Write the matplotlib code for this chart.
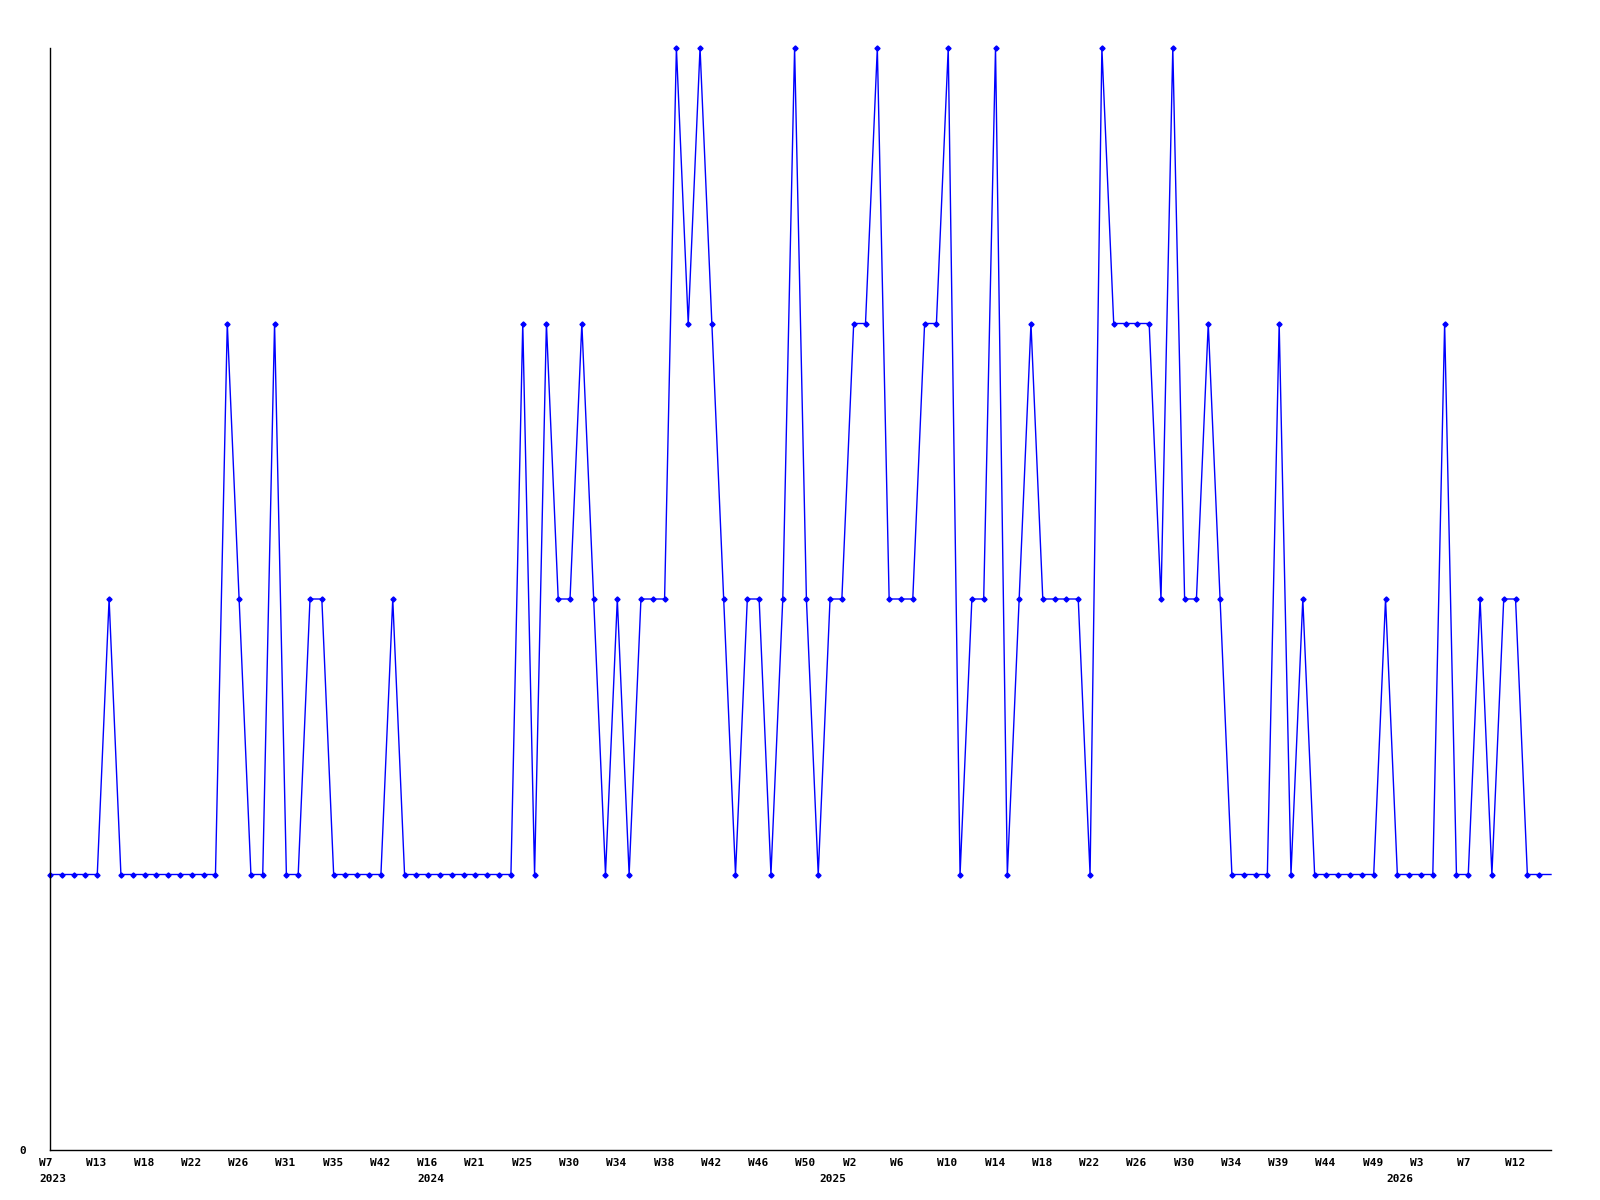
import matplotlib
matplotlib.use("Agg")
import matplotlib.pyplot as plt
import matplotlib.transforms as mtransforms
import numpy as np

# weekly values, one point per week (categorical axis, weeks with no data skipped)
values = [
    1, 1, 1, 1, 1, 2, 1, 1, 1, 1, 1, 1, 1, 1, 1, 3, 2, 1, 1, 3,
    1, 1, 2, 2, 1, 1, 1, 1, 1, 2, 1, 1, 1, 1, 1, 1, 1, 1, 1, 1,
    3, 1, 3, 2, 2, 3, 2, 1, 2, 1, 2, 2, 2, 4, 3, 4, 3, 2, 1, 2,
    2, 1, 2, 4, 2, 1, 2, 2, 3, 3, 4, 2, 2, 2, 3, 3, 4, 1, 2, 2,
    4, 1, 2, 3, 2, 2, 2, 2, 1, 4, 3, 3, 3, 3, 2, 4, 2, 2, 3, 2,
    1, 1, 1, 1, 3, 1, 2, 1, 1, 1, 1, 1, 1, 2, 1, 1, 1, 1, 3, 1,
    1, 2, 1, 2, 2, 1, 1, 1,
]
week_labels = ["W7", "W13", "W18", "W22", "W26", "W31", "W35", "W42",
               "W16", "W21", "W25", "W30", "W34", "W38", "W42", "W46",
               "W50", "W2", "W6", "W10", "W14", "W18", "W22", "W26",
               "W30", "W34", "W39", "W44", "W49", "W3", "W7", "W12"]
label_every = 4
years = ["2023", "2024", "2025", "2026"]
year_idx = [0, 32, 66, 114]

x = np.arange(len(values))
font = dict(family="DejaVu Sans Mono", weight="bold", size=8)

fig = plt.figure(figsize=(16, 12), dpi=100)
ax = fig.add_axes([50 / 1600, 50 / 1200, 1501 / 1600, 1102 / 1200])
ax.plot(x, values, color="#0000ff", lw=1, marker="D", ms=2.6,
        markevery=list(range(len(values) - 1)), clip_on=False)
ax.set_xlim(0, len(values) - 1)
ax.set_ylim(0, 4)

for s in ["top", "right"]:
    ax.spines[s].set_visible(False)
for s in ["left", "bottom"]:
    ax.spines[s].set_linewidth(1)

# labels sit left-aligned, starting ~11 px left of their point
shift = mtransforms.ScaledTranslation(-11 / 100, 0, fig.dpi_scale_trans)

ticks = x[::label_every][:len(week_labels)]
ax.set_xticks(ticks, week_labels)
ax.set_yticks([0], ["0"])
ax.tick_params(axis="x", length=0, pad=6)
ax.tick_params(axis="y", length=0, pad=17)
for t in ax.get_xticklabels() + ax.get_yticklabels():
    t.set_fontfamily(font["family"])
    t.set_fontweight(font["weight"])
    t.set_fontsize(font["size"])
for t in ax.get_xticklabels():
    t.set_horizontalalignment("left")
    t.set_transform(t.get_transform() + shift)

base = ax.get_xaxis_transform()
down = mtransforms.ScaledTranslation(0, -17 / 72, fig.dpi_scale_trans)
for yr, i in zip(years, year_idx):
    ax.text(i, 0, yr, transform=base + down + shift, ha="left", va="top",
            **font)

fig.savefig("out.png", dpi=100)
